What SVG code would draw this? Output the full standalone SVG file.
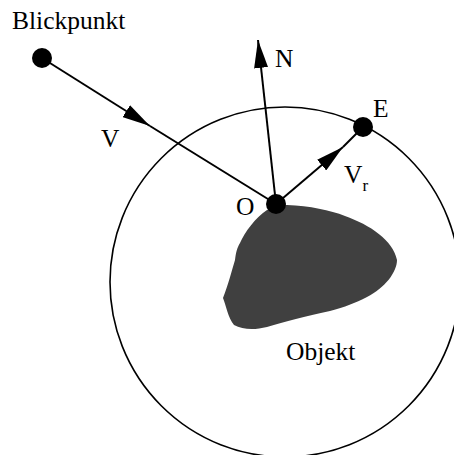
<svg xmlns="http://www.w3.org/2000/svg" width="454" height="455" viewBox="0 0 454 455">
<style>
.ln{stroke:#000;stroke-width:2;fill:none}
.dot{fill:#000}
</style>
<defs>
<marker id="ah" viewBox="0 -7 28 14" markerWidth="28" markerHeight="14" refX="28" refY="0" orient="auto" markerUnits="userSpaceOnUse">
<path d="M0,-7 L28,0 L0,7 z" fill="#000"/>
</marker>
</defs>
<rect width="454" height="455" fill="#fff"/>
<g font-family="'Liberation Serif', 'Times New Roman', serif" font-size="25.5" fill="#000">
<g id="sphere">
<circle cx="285" cy="282" r="175" fill="none" stroke="#000" stroke-width="1.6"/>
</g>
<g id="objekt">
<path d="M287,205 C310,206 330,210 345,216 C370,225 393,240 397,260 C397,272 385,288 367,297 C355,303 345,307 330,311 C305,316 285,322 267,327 C255,330 243,330 234,325 C228,318 226,305 223,298 C228,285 232,270 235,260 C236,252 237,248 240,243 C245,232 255,218 267,210 C273,207 280,205 287,205 Z" fill="#404040"/>
<text x="286" y="360">Objekt</text>
</g>
<g id="connectors">
<line class="ln" x1="42" y1="58" x2="150" y2="126" marker-end="url(#ah)"/>
<line class="ln" x1="150" y1="126" x2="276" y2="204"/>
<line class="ln" x1="276" y1="204" x2="258" y2="40" marker-end="url(#ah)"/>
<line class="ln" x1="276" y1="204" x2="343" y2="147" marker-end="url(#ah)"/>
<line class="ln" x1="343" y1="147" x2="363" y2="127"/>
</g>
<g id="blickpunkt">
<circle class="dot" cx="42" cy="58" r="10"/>
<text x="12" y="29">Blickpunkt</text>
</g>
<g id="O">
<circle class="dot" cx="276" cy="204" r="10"/>
<text x="236" y="215">O</text>
</g>
<g id="E">
<circle class="dot" cx="363" cy="127" r="10"/>
<text x="373" y="117">E</text>
</g>
<g id="labels">
<text x="101" y="147">V</text>
<text x="275" y="67">N</text>
<text x="344" y="183">V<tspan font-size="17" dy="8">r</tspan></text>
</g>
</g>
</svg>
